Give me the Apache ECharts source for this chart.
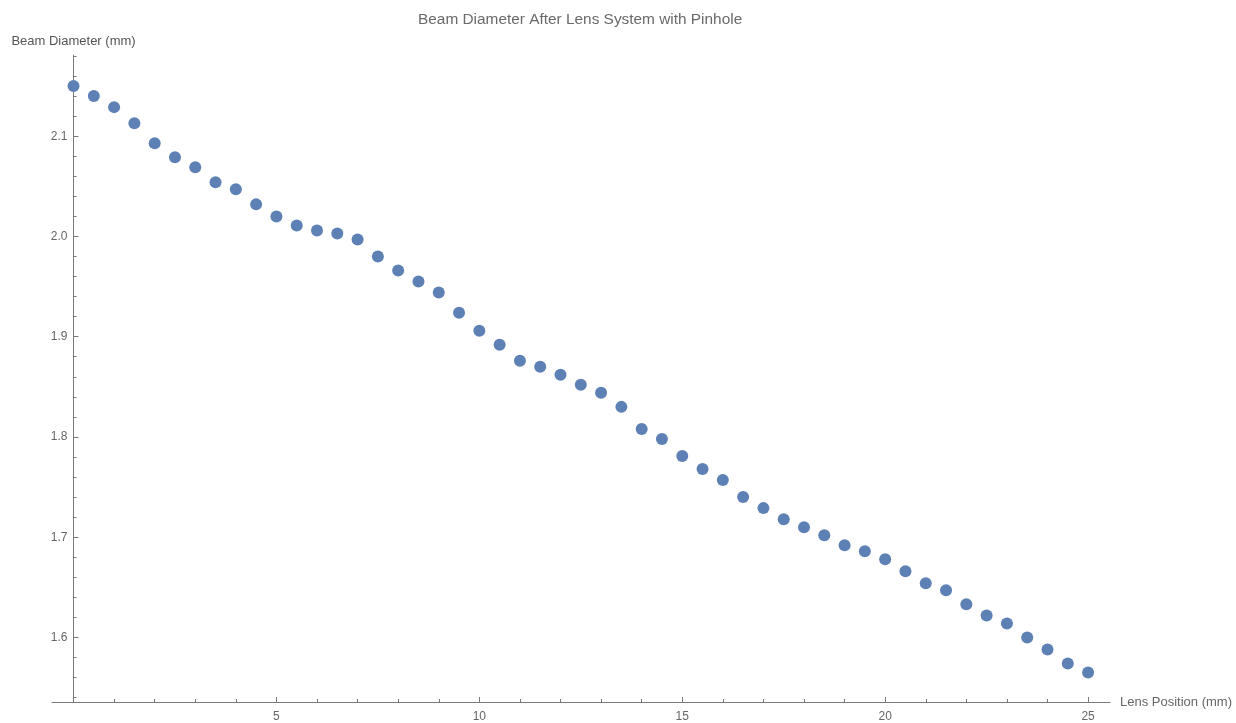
<!DOCTYPE html>
<html>
<head>
<meta charset="utf-8">
<script src="https://cdn.jsdelivr.net/npm/echarts@6/dist/echarts.min.js"></script>
<style>
html,body{margin:0;padding:0;background:#fff;}
#chart{width:1236px;height:723px;}
</style>
</head>
<body>
<div id="chart"></div>
<script>
// Data
var lensPosition = [0,0.5,1,1.5,2,2.5,3,3.5,4,4.5,5,5.5,6,6.5,7,7.5,8,8.5,9,9.5,10,10.5,11,11.5,12,12.5,13,13.5,14,14.5,15,15.5,16,16.5,17,17.5,18,18.5,19,19.5,20,20.5,21,21.5,22,22.5,23,23.5,24,24.5,25];
var beamDiameter = [2.150,2.140,2.129,2.113,2.093,2.079,2.069,2.054,2.047,2.032,2.020,2.011,2.006,2.003,1.997,1.980,1.966,1.955,1.944,1.924,1.906,1.892,1.876,1.870,1.862,1.852,1.844,1.830,1.808,1.798,1.781,1.768,1.757,1.740,1.729,1.718,1.710,1.702,1.692,1.686,1.678,1.666,1.654,1.647,1.633,1.622,1.614,1.600,1.588,1.574,1.565];
var xMajorTicks = [5,10,15,20,25];
var xMinorTicks = [1,2,3,4,6,7,8,9,11,12,13,14,16,17,18,19,21,22,23,24];
var yMajorTicks = [1.6,1.7,1.8,1.9,2.0,2.1];
var yMinorTicks = [1.54,1.56,1.58,1.62,1.64,1.66,1.68,1.72,1.74,1.76,1.78,1.82,1.84,1.86,1.88,1.92,1.94,1.96,1.98,2.02,2.04,2.06,2.08,2.12,2.14,2.16,2.18];
var titleText = 'Beam Diameter After Lens System with Pinhole';
var xName = 'Lens Position (mm)';
var yName = 'Beam Diameter (mm)';

var xMin = -0.53, xMax = 25.54, yMin = 1.5356, yMax = 2.181;
var axisColor = '#7a7a7a', textColor = '#666666';
var fontFam = '"Liberation Sans", Arial, sans-serif';
var gridLeft = 52, yAxisOffset = -21.5;

var points = lensPosition.map(function(x, i){ return [x, beamDiameter[i]]; });

var chart = echarts.init(document.getElementById('chart'), null, {renderer:'canvas'});
chart.setOption({
  animation: false,
  backgroundColor: '#ffffff',
  textStyle: {fontFamily: fontFam},
  graphic: [{
    type: 'text', left: 418, top: 12,
    style: {text: titleText, fill: '#6a6a6a', font: '15.4px ' + fontFam}
  }],
  grid: {left: gridLeft, right: 126, top: 55, bottom: 19, containLabel: false},
  xAxis: [{
    type: 'value', min: xMin, max: xMax,
    splitLine: {show: false},
    axisLine: {show: true, onZero: false, lineStyle: {color: axisColor, width: 1}},
    axisTick: {show: true, inside: true, length: 5, customValues: xMajorTicks, lineStyle: {color: axisColor}},
    axisLabel: {show: true, customValues: xMajorTicks, color: textColor, fontSize: 12, margin: 9, fontFamily: fontFam},
    name: xName, nameLocation: 'end', nameGap: 10,
    nameTextStyle: {color: textColor, fontSize: 13, fontFamily: fontFam}
  }, {
    type: 'value', min: xMin, max: xMax, position: 'bottom',
    splitLine: {show: false},
    axisLine: {show: false, onZero: false},
    axisTick: {show: true, inside: true, length: 3, customValues: xMinorTicks, lineStyle: {color: axisColor}},
    axisLabel: {show: false}
  }],
  yAxis: [{
    type: 'value', min: yMin, max: yMax, position: 'left', offset: yAxisOffset,
    splitLine: {show: false},
    axisLine: {show: true, onZero: false, lineStyle: {color: axisColor, width: 1}},
    axisTick: {show: true, inside: true, length: 5, customValues: yMajorTicks, lineStyle: {color: axisColor}},
    axisLabel: {show: true, customValues: yMajorTicks, color: textColor, fontSize: 12, margin: 6, fontFamily: fontFam,
      formatter: function(v){ return v.toFixed(1); }},
    name: yName, nameLocation: 'end', nameGap: 7,
    nameTextStyle: {color: '#555555', fontSize: 13, fontFamily: fontFam}
  }, {
    type: 'value', min: yMin, max: yMax, position: 'left', offset: yAxisOffset,
    splitLine: {show: false},
    axisLine: {show: false, onZero: false},
    axisTick: {show: true, inside: true, length: 3, customValues: yMinorTicks, lineStyle: {color: axisColor}},
    axisLabel: {show: false}
  }],
  series: [{
    type: 'scatter',
    xAxisIndex: 0, yAxisIndex: 0,
    data: points,
    symbol: 'circle',
    symbolSize: 12,
    itemStyle: {color: '#5e81b5', opacity: 1}
  }]
});
</script>
</body>
</html>
